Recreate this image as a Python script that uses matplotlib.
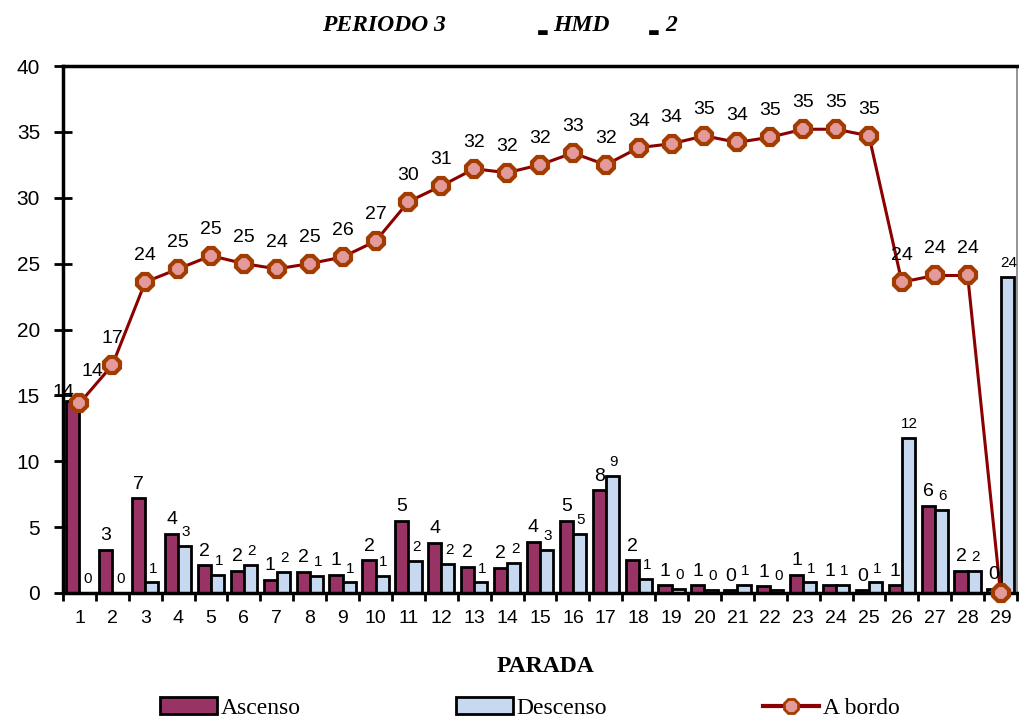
import matplotlib
matplotlib.use("Agg")
import matplotlib.pyplot as plt
import numpy as np
from matplotlib.lines import Line2D
from matplotlib.patches import Patch

# ---------------- data ----------------
paradas = [str(i) for i in range(1, 30)]
ascenso = [14.6, 3.3, 7.2, 4.5, 2.1, 1.7, 1.0, 1.6, 1.4, 2.5,
           5.5, 3.8, 2.0, 1.9, 3.9, 5.5, 7.8, 2.5, 0.6, 0.6,
           0.2, 0.5, 1.4, 0.6, 0.2, 0.6, 6.6, 1.7, 0.3]
descenso = [0.0, 0.0, 0.8, 3.6, 1.4, 2.1, 1.6, 1.3, 0.8, 1.3,
            2.4, 2.2, 0.8, 2.3, 3.3, 4.5, 8.9, 1.1, 0.3, 0.2,
            0.6, 0.2, 0.8, 0.6, 0.8, 11.8, 6.3, 1.7, 24.0]
a_bordo = [14.4, 17.3, 23.6, 24.6, 25.6, 25.0, 24.6, 25.0, 25.5, 26.7,
           29.7, 30.9, 32.2, 31.9, 32.5, 33.4, 32.5, 33.8, 34.1, 34.7,
           34.2, 34.6, 35.2, 35.2, 34.7, 23.6, 24.1, 24.1, 0.0]
asc_labels = ["14", "3", "7", "4", "2", "2", "1", "2", "1", "2",
              "5", "4", "2", "2", "4", "5", "8", "2", "1", "1",
              "0", "1", "1", "1", "0", "1", "6", "2", "0"]
desc_labels = ["0", "0", "1", "3", "1", "2", "2", "1", "1", "1",
               "2", "2", "1", "2", "3", "5", "9", "1", "0", "0",
               "1", "0", "1", "1", "1", "12", "6", "2", "24"]
bordo_labels = ["14", "17", "24", "25", "25", "25", "24", "25", "26", "27",
                "30", "31", "32", "32", "32", "33", "32", "34", "34", "35",
                "34", "35", "35", "35", "35", "24", "24", "24", ""]

C_ASC = "#993366"
C_DESC = "#C6D9F1"
C_LINE = "#8B0000"
C_MEDGE = "#A33C00"
C_MFACE = "#E49A9A"

fig = plt.figure(figsize=(10.19, 7.24), dpi=100)
ax = fig.add_axes([63/1019, 1-593/724, (1017-63)/1019, (593-66)/724])

x = np.arange(len(paradas))
w = 0.4
ax.bar(x - w/2, ascenso, w, color=C_ASC, edgecolor="black", linewidth=2, zorder=2)
ax.bar(x + w/2, descenso, w, color=C_DESC, edgecolor="black", linewidth=2, zorder=2)
ax.plot(x, a_bordo, color=C_LINE, lw=2.2, marker="8", ms=12.5, mfc=C_MFACE,
        mec=C_MEDGE, mew=3, zorder=4, clip_on=False)

lab_font = dict(family="Liberation Sans", color="black")
for i in range(len(x)):
    dx_a = -7 if i == 0 else 0
    dy_a = 0 if i == 0 else 4
    ax.annotate(asc_labels[i], (x[i] - w/2, ascenso[i]), xytext=(dx_a, dy_a),
                textcoords="offset points", ha="center", va="bottom",
                fontsize=14, zorder=5, **lab_font)
    ax.annotate(desc_labels[i], (x[i] + w/2, descenso[i]), xytext=(1, 5),
                textcoords="offset points", ha="center", va="bottom",
                fontsize=11, zorder=5, **lab_font)
    if bordo_labels[i]:
        dx_b = 9 if i == 0 else 0
        dy_b = 17 if i == 0 else 13
        ax.annotate(bordo_labels[i], (x[i], a_bordo[i]), xytext=(dx_b, dy_b),
                    textcoords="offset points", ha="center", va="bottom",
                    fontsize=14, zorder=5, **lab_font)

ax.set_xlim(-0.5, 28.5)
ax.set_ylim(0, 40)
ax.set_yticks(np.arange(0, 41, 5))
ax.tick_params(axis="y", direction="inout", length=13, width=2, pad=10,
               labelsize=15)
ax.set_xticks(np.arange(-0.5, 29, 1))
ax.set_xticklabels([])
ax.tick_params(axis="x", which="major", direction="out", length=6, width=2)
ax.set_xticks(x, minor=True)
ax.set_xticklabels(paradas, minor=True)
ax.tick_params(axis="x", which="minor", length=0, pad=12, labelsize=14)
for lbl in ax.get_xticklabels(minor=True) + ax.get_yticklabels():
    lbl.set_family("Liberation Sans")

ax.spines["left"].set_linewidth(2.5)
ax.spines["bottom"].set_linewidth(2.5)
ax.spines["top"].set_linewidth(2.5)
ax.spines["right"].set_linewidth(1.2)
ax.spines["right"].set_color("#808080")

# title
tfont = dict(family=["Liberation Serif", "DejaVu Sans"], weight="bold",
             style="italic", fontsize=17)
bfont = dict(family="DejaVu Sans", weight="bold", fontsize=9)
ty = 1 - 31/724
fig.text(322/1019, ty, "PERIODO 3", va="baseline", **tfont)
fig.text(537/1019, 1 - 36/724, "\u25AC", va="baseline", **bfont)
fig.text(553/1019, ty, "HMD", va="baseline", **tfont)
fig.text(648/1019, 1 - 36/724, "\u25AC", va="baseline", **bfont)
fig.text(665/1019, ty, "2", va="baseline", **tfont)

fig.text(545/1019, 1-667/724, "PARADA", ha="center", va="center",
         family="Liberation Serif", weight="bold", fontsize=17)

handles = [Patch(facecolor=C_ASC, edgecolor="black", linewidth=2),
           Patch(facecolor=C_DESC, edgecolor="black", linewidth=2),
           Line2D([], [], color=C_LINE, lw=3, marker="8", ms=11, mfc=C_MFACE,
                  mec=C_MEDGE, mew=2)]
fig.legend(handles, ["Ascenso", "Descenso", "A bordo"], ncol=3,
           loc="center", bbox_to_anchor=(530/1019, 1-708/724), frameon=False,
           prop=dict(family="Liberation Serif", size=17),
           handlelength=2.4, handleheight=0.75, handletextpad=0.15,
           columnspacing=6.6, borderpad=0)

fig.savefig("out.png", dpi=100)
